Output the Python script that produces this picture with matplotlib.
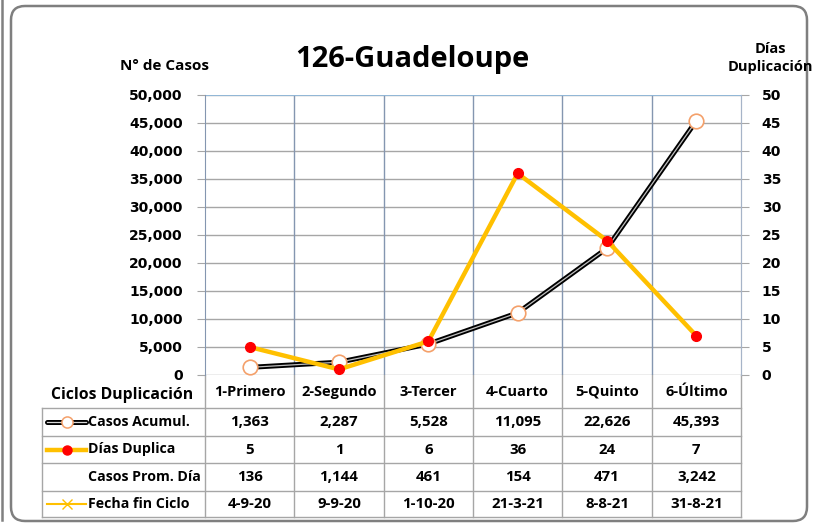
import matplotlib
matplotlib.use("Agg")
import matplotlib.pyplot as plt
from matplotlib.patches import FancyBboxPatch
import matplotlib.transforms as mtransforms

plt.rcParams['font.family'] = ['Open Sans', 'DejaVu Sans']

categories = ["1-Primero", "2-Segundo", "3-Tercer", "4-Cuarto", "5-Quinto", "6-Último"]
casos_acumul = [1363, 2287, 5528, 11095, 22626, 45393]
dias_duplica = [5, 1, 6, 36, 24, 7]
casos_prom_dia = [136, 1144, 461, 154, 471, 3242]
fecha_fin = ["4-9-20", "9-9-20", "1-10-20", "21-3-21", "8-8-21", "31-8-21"]
row_labels = ["Casos Acumul.", "Días Duplica", "Casos Prom. Día", "Fecha fin Ciclo"]
title = "126-Guadeloupe"

W, H = 815, 526
fig = plt.figure(figsize=(W/100, H/100), dpi=100)

ov = fig.add_axes([0, 0, 1, 1])
ov.set_xlim(0, W)
ov.set_ylim(H, 0)
ov.axis('off')

box = FancyBboxPatch((11, 6), 796, 515, boxstyle="round,pad=0,rounding_size=14",
                     fc='white', ec='#7f7f7f', lw=1.8)
ov.add_patch(box)
ov.plot([2, 2], [0, 520], color='#808080', lw=1.8)

L, R, T, B = 205, 741, 95, 375
ax = fig.add_axes([L/W, 1-B/H, (R-L)/W, (B-T)/H])
ax.set_zorder(2)
ax.patch.set_alpha(0)
x = list(range(len(categories)))
ax.set_xlim(-0.5, len(categories)-0.5)
ax.set_ylim(0, 50000)
tickfont = dict(family='DejaVu Sans', size=10, weight='bold')
ax.set_yticks(range(0, 50001, 5000))
ax.set_yticklabels([f"{v:,}" for v in range(0, 50001, 5000)], fontdict=tickfont)
ax.set_xticks([])
ax.grid(axis='y', color='#a6a6a6', lw=1)
for b in [i+0.5 for i in x[:-1]]:
    ax.axvline(b, color='#8496b0', lw=1)
for s in ['top', 'bottom']:
    ax.spines[s].set_visible(False)
ax.spines['left'].set_color('#8496b0')
ax.spines['right'].set_color('#a6b4c8')
ax.axhline(50000, color='#8fbbe0', lw=1.2)
ax.tick_params(axis='y', length=6, color='#a6a6a6', pad=10)

ax.plot(x, casos_acumul, color='black', lw=3.6, zorder=3, solid_capstyle='round')
ax.plot(x, casos_acumul, color='#bfbfbf', lw=0.9, zorder=3)
ax.plot(x, casos_acumul, ls='none', marker='o', ms=10.5, mfc='white', mec='#f4a06a', mew=1.2, zorder=4)

ax2 = ax.twinx()
ax2.set_ylim(0, 50)
ax2.set_yticks(range(0, 51, 5))
ax2.set_yticklabels([str(v) for v in range(0, 51, 5)], fontdict=tickfont)
ax2.tick_params(axis='y', length=6, color='#a6a6a6', pad=9)
for s in ['top', 'bottom', 'left']:
    ax2.spines[s].set_visible(False)
ax2.spines['right'].set_color('#a6b4c8')
ax2.plot(x, dias_duplica, color='#ffc000', lw=3.2, zorder=5)
ax2.plot(x, dias_duplica, ls='none', marker='o', ms=7, mfc='#ff0000', mec='#ff0000', zorder=6)

ov.text(412, 60, title, fontsize=21, fontweight='bold', ha='center', va='center')
ov.text(165, 66, "N° de Casos", fontsize=11, fontweight='bold', ha='center', va='center')
ov.text(770, 58, "Días\nDuplicación", fontsize=10.5, fontweight='bold', ha='center', va='center',
        linespacing=1.4)

tr = mtransforms.blended_transform_factory(ax.transData, ov.transData)
tcol = '#a6a6a6'
rows_y = [408, 436, 463, 491, 517]
for yy in rows_y:
    ov.plot([42, R], [yy, yy], color=tcol, lw=1)
ov.plot([42, 42], [408, 517], color=tcol, lw=1)
ov.plot([L, L], [B, 517], color=tcol, lw=1)
for b in [i+0.5 for i in x]:
    ov.plot([b, b], [B, 517], color=tcol, lw=1, transform=tr)

for i, c in enumerate(categories):
    ov.text(i, 392, c, transform=tr, ha='center', va='center', fontsize=10.5, fontweight='bold')
ov.text(122, 395, "Ciclos Duplicación", ha='center', va='center', fontsize=11.3, fontweight='bold')

table_rows = [[f"{v:,}" for v in casos_acumul],
              [str(v) for v in dias_duplica],
              [f"{v:,}" for v in casos_prom_dia],
              fecha_fin]
for r, vals in enumerate(table_rows):
    yc = (rows_y[r] + rows_y[r+1]) / 2
    ov.text(88, yc, row_labels[r], ha='left', va='center', fontsize=10.2, fontweight='bold')
    for i, v in enumerate(vals):
        ov.text(i, yc, v, transform=tr, ha='center', va='center', fontsize=10.8, fontweight='bold')

y0 = (rows_y[0] + rows_y[1]) / 2
ov.plot([47, 86], [y0, y0], color='black', lw=3.6, solid_capstyle='round')
ov.plot([47, 86], [y0, y0], color='#d9d9d9', lw=0.9)
ov.plot([67], [y0], marker='o', ms=8, mfc='white', mec='#f4a06a', mew=1.1)
y1 = (rows_y[1] + rows_y[2]) / 2
ov.plot([47, 86], [y1, y1], color='#ffc000', lw=3.2)
ov.plot([67], [y1], marker='o', ms=6.5, mfc='#ff0000', mec='#ff0000')
y3 = (rows_y[3] + rows_y[4]) / 2
ov.plot([47, 86], [y3, y3], color='#ffc000', lw=1.5)
ov.plot([67], [y3], marker='x', ms=7, color='#ffc000', mew=1)

fig.savefig("out.png", dpi=100)
